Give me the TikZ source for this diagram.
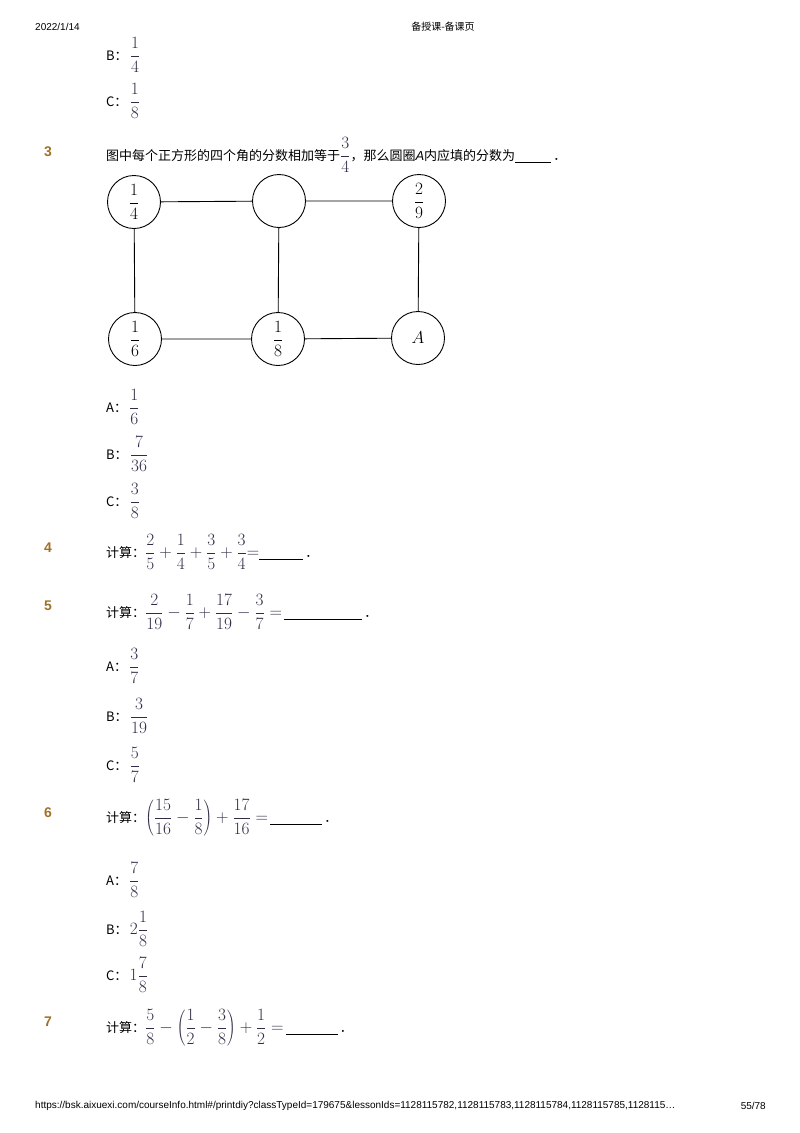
\documentclass[tikz,border=0pt]{standalone}
\usepackage{fontspec}
\setmainfont{Liberation Sans}
\newfontfamily\cjk{Noto Sans CJK SC}
\newfontfamily\lsans{Liberation Sans}
\usepackage{xcolor}
\definecolor{qnum}{HTML}{A0702A}
\definecolor{fr}{HTML}{2E2E48}
\newcommand{\mf}[1]{{\fontsize{18}{21}\selectfont\color{fr}$\displaystyle #1$}}
\newcommand{\bl}[1]{\underline{\hspace{#1}}}
\begin{document}
\begin{tikzpicture}[x=1pt,y=-1pt,
  txt/.style={anchor=west,inner sep=0pt,font=\fontsize{13}{15}\selectfont\cjk},
  qn/.style={anchor=west,inner sep=0pt,font=\fontsize{14}{16}\selectfont\bfseries,text=qnum},
  sm/.style={inner sep=0pt,font=\fontsize{10}{12}\selectfont},
  circ/.style={circle,draw,line width=0.9pt,minimum size=53pt,inner sep=0pt,font=\fontsize{17}{20}\selectfont\rmfamily}]
\useasboundingbox (0,0) rectangle (800,1133);
\node[sm,anchor=west] (h1) at (35,27) {2022/1/14};
\node[sm] (h2) at (443,27) {\cjk 备授课-备课页};
\node[txt] (b1) at (106,55) {B：\,\mf{\frac{1}{4}}};
\node[txt] (c1) at (106,101) {C：\,\mf{\frac{1}{8}}};
\node[qn] (q3) at (44,152) {3};
\node[txt] (t3) at (106,155) {图中每个正方形的四个角的分数相加等于\mf{\frac{3}{4}}，那么圆圈{\lsans\itshape A}内应填的分数为\bl{36pt}\,．};
\node[circ] (n1) at (134,202) {$\displaystyle\frac{1}{4}$};
\node[circ] (n2) at (279,201) {};
\node[circ] (n3) at (419,201) {$\displaystyle\frac{2}{9}$};
\node[circ] (n4) at (135,339) {$\displaystyle\frac{1}{6}$};
\node[circ] (n5) at (278,339) {$\displaystyle\frac{1}{8}$};
\node[circ] (n6) at (418,338) {$A$};
\draw[line width=0.9pt] (n1)--(n2) (n2)--(n3) (n4)--(n5) (n5)--(n6) (n1)--(n4) (n2)--(n5) (n3)--(n6);
\node[txt] (a3) at (106,407) {A：\,\mf{\frac{1}{6}}};
\node[txt] (bb3) at (106,454) {B：\,\mf{\frac{7}{36}}};
\node[txt] (c3) at (106,501) {C：\,\mf{\frac{3}{8}}};
\node[qn] (q4) at (44,548) {4};
\node[txt] (t4) at (106,552) {计算：\mf{\frac{2}{5}+\frac{1}{4}+\frac{3}{5}+\frac{3}{4}{=}}\bl{44pt}\,．};
\node[qn] (q5) at (44,606) {5};
\node[txt] (t5) at (106,612) {计算：\mf{\frac{2}{19}-\frac{1}{7}+\frac{17}{19}-\frac{3}{7}=}\,\bl{78pt}\,．};
\node[txt] (a5) at (106,666) {A：\,\mf{\frac{3}{7}}};
\node[txt] (b5) at (106,716) {B：\,\mf{\frac{3}{19}}};
\node[txt] (c5) at (106,765) {C：\,\mf{\frac{5}{7}}};
\node[qn] (q6) at (44,813) {6};
\node[txt] (t6) at (106,818) {计算：\mf{\left(\frac{15}{16}-\frac{1}{8}\right)+\frac{17}{16}=}\,\bl{52pt}\,．};
\node[txt] (a6) at (106,880) {A：\,\mf{\frac{7}{8}}};
\node[txt] (b6) at (106,929) {B：\,\mf{2\frac{1}{8}}};
\node[txt] (c6) at (106,975) {C：\,\mf{1\frac{7}{8}}};
\node[qn] (q7) at (44,1022) {7};
\node[txt] (t7) at (106,1028) {计算：\mf{\frac{5}{8}-\left(\frac{1}{2}-\frac{3}{8}\right)+\frac{1}{2}=}\,\bl{52pt}\,．};
\node[sm,anchor=west] (f1) at (35,1106) {https://bsk.aixuexi.com/courseInfo.html\#/printdiy?classTypeId=179675\&lessonIds=1128115782,1128115783,1128115784,1128115785,1128115\dots};
\node[sm,anchor=east] (f2) at (766,1106) {55/78};
\end{tikzpicture}
\end{document}
